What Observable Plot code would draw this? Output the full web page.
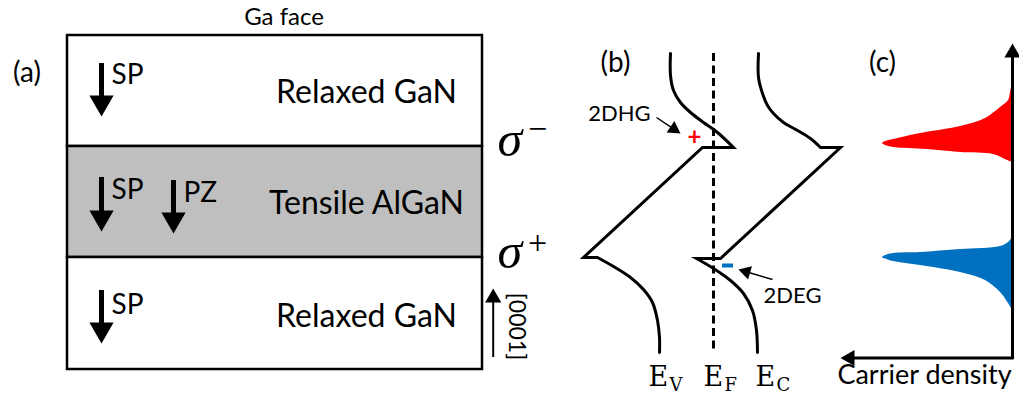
<!DOCTYPE html>
<html><head><meta charset="utf-8">
<script src="https://cdn.jsdelivr.net/npm/d3@7"></script>
<script src="https://cdn.jsdelivr.net/npm/@observablehq/plot@0.6"></script>
<style>
html,body{margin:0;padding:0;background:#fff;}
#chart svg{display:block;}
</style></head><body><div id="chart"></div>
<script>
// ---------------- data ----------------
const layerNames = ["Relaxed GaN", "Tensile AlGaN", "Relaxed GaN"];
const layerTop = [35, 146, 257];
const layerBottom = [146, 257, 369];

const polLabels = ["SP", "SP", "PZ", "SP"];
const polX = [101, 101, 173, 101];
const polTail = [63, 177, 180, 290];
const polTip = [116, 231, 233, 343];

const chargeSigns = ["−", "+"];
const chargeDepth = [155, 267];

// band edges: [energy(x), depth(y)]
const evUpper = [[670,53],[670,75],[673,90],[680,102],[690,112],[703,122],[717,132],[733,147]];
const evKink  = [[733,147],[702,147],[583,257],[597,257]];
const evLower = [[597,257],[613,266],[630,277],[643,289],[652,302],[657,320],[659,337],[659,352]];
const ecUpper = [[758,53],[758,77],[762,93],[767,105],[773,113],[783,122],[797,130],[810,138],[820,147]];
const ecKink  = [[820,147],[840,147],[720,258],[696,258]];
const ecLower = [[696,258],[713,268],[730,280],[743,293],[752,310],[756,330],[757,352]];
const bandLetters = ["V", "F", "C"];

// carrier density profiles
const holeDepth   = [83, 92, 100, 107, 118, 126, 133, 139, 141, 143, 145, 147, 149, 152, 154, 160, 162];
const holeDensity = [0, 2, 4, 12, 27, 52, 92, 119, 127, 130, 127, 119, 85, 52, 19, 5, 0];
const electronDepth   = [237, 242, 246, 249, 252, 253, 255, 257, 258.5, 261, 265, 272, 280, 292, 303, 310];
const electronDensity = [0, 4, 12, 52, 92, 119, 127, 130, 127, 119, 92, 52, 27, 12, 4, 0];

// ---------------- helpers ----------------
const SANS = "Lato, 'Open Sans', sans-serif";
const SERIF = "'DejaVu Serif', serif";
const TIMES = "'Liberation Serif', serif";

function heads(tips, h, fill = "black") {
  const k = 2 * h / 3;
  const r = Math.sqrt(((h / 3) ** 2) * 3 * Math.sqrt(3) / Math.PI);
  return Plot.dot(tips, {
    x: d => d.x - k * Math.sin(d.a * Math.PI / 180),
    y: d => d.y + k * Math.cos(d.a * Math.PI / 180),
    symbol: "triangle", r, fill, stroke: "none", rotate: d => d.a
  });
}
function band(upper, kink, lower) {
  return [...upper.slice(0, -1), ...kink.flatMap(p => [p, p]), ...lower.slice(1)];
}
const angle = (tx, ty, sx, sy) => Math.atan2(tx - sx, -(ty - sy)) * 180 / Math.PI;

const layers = layerNames.map((name, i) => ({name, top: layerTop[i], bottom: layerBottom[i], i}));
const layerLabelBase = [102, 213, 326];
const pols = polLabels.map((t, i) => ({t, x: polX[i], top: polTail[i], tip: polTip[i], i}));
const polLabelBase = [83, 198, 201, 313];
const holes = holeDepth.map((y, i) => ({y, d: holeDensity[i]}));
const electrons = electronDepth.map((y, i) => ({y, d: electronDensity[i]}));
const AX = 1012, AY = 357.5;

const hhg = {tail: [656, 117], tip: [680, 133]};
const heg = {tail: [772, 279], tip: [738, 269]};

const plot = Plot.plot({
  width: 1019, height: 396,
  margin: 0, marginTop: 0, marginRight: 0, marginBottom: 0, marginLeft: 0,
  x: {domain: [0, 1019], range: [0, 1019], axis: null},
  y: {domain: [0, 396], range: [0, 396], axis: null},
  color: {type: "identity"},
  style: {background: "white", overflow: "visible"},
  marks: [
    // ---- panel (a)
    Plot.rect(layers, {x1: 67, x2: 482, y1: "top", y2: "bottom",
      fill: d => d.i === 1 ? "#bfbfbf" : "white", stroke: "black", strokeWidth: 2.5}),
    Plot.text(layers, {x: 366, y: d => layerLabelBase[d.i], text: "name", fontFamily: SANS, fontSize: 32,
      textAnchor: "middle", lineAnchor: "bottom", fill: "black"}),
    Plot.ruleX(pols, {x: "x", y1: "top", y2: d => d.tip - 12, stroke: "black", strokeWidth: 5}),
    heads(pols.map(d => ({x: d.x, y: d.tip, a: 180})), 21),
    Plot.text(pols, {x: d => d.x + 10, y: d => polLabelBase[d.i], text: "t", fontFamily: SANS, fontSize: 28,
      textAnchor: "start", lineAnchor: "bottom", fill: "black"}),
    Plot.text(["Ga face"], {x: 283.5, y: 24, text: d => d, fontFamily: SANS, fontSize: 24, textAnchor: "middle", lineAnchor: "bottom"}),
    Plot.text(["(a)", "(b)", "(c)"], {x: [26.5, 615, 882], y: [81, 71, 71], text: d => d, fontFamily: SANS, fontSize: 28, textAnchor: "middle", lineAnchor: "bottom"}),
    // [0001] direction
    Plot.ruleX([492.7], {y1: 357, y2: 295, stroke: "black", strokeWidth: 2}),
    heads([{x: 492.7, y: 288, a: 0}], 14),
    Plot.text(["[0001]"], {x: 516, y: 326, text: d => d, rotate: 90, fontFamily: SANS, fontSize: 23, textAnchor: "middle", lineAnchor: "middle"}),
    // sheet charges
    Plot.text(chargeDepth, {x: 497, y: d => d, text: () => "σ", fontFamily: TIMES, fontStyle: "italic", fontSize: 50, textAnchor: "start", lineAnchor: "bottom"}),
    Plot.text(chargeSigns, {x: 537, y: [129, 243], text: d => d, fontFamily: TIMES, fontSize: 34, textAnchor: "middle", lineAnchor: "middle"}),
    // ---- panel (b)
    Plot.ruleX([713], {y1: 53, y2: 352, stroke: "black", strokeWidth: 3, strokeDasharray: "8,4.5"}),
    Plot.line(band(evUpper, evKink, evLower), {x: d => d[0], y: d => d[1], curve: "catmull-rom", stroke: "black", strokeWidth: 3, strokeLinejoin: "miter", strokeMiterlimit: 4}),
    Plot.line(band(ecUpper, ecKink, ecLower), {x: d => d[0], y: d => d[1], curve: "catmull-rom", stroke: "black", strokeWidth: 3, strokeLinejoin: "miter", strokeMiterlimit: 4}),
    Plot.text(bandLetters, {x: [648, 703, 755], y: 385, text: () => "E", fontFamily: SERIF, fontSize: 27, textAnchor: "start", lineAnchor: "bottom"}),
    Plot.text(bandLetters, {x: [669, 724, 776], y: 390, text: d => d, fontFamily: SERIF, fontSize: 18, textAnchor: "start", lineAnchor: "bottom"}),
    // 2DHG / 2DEG annotations
    Plot.link([hhg, heg], {x1: d => d.tail[0], y1: d => d.tail[1],
      x2: d => d.tip[0] - 8 * Math.sin(angle(d.tip[0], d.tip[1], d.tail[0], d.tail[1]) * Math.PI / 180),
      y2: d => d.tip[1] + 8 * Math.cos(angle(d.tip[0], d.tip[1], d.tail[0], d.tail[1]) * Math.PI / 180),
      stroke: "black", strokeWidth: 1.5}),
    heads([hhg, heg].map(d => ({x: d.tip[0], y: d.tip[1], a: angle(d.tip[0], d.tip[1], d.tail[0], d.tail[1])})), 12),
    Plot.text(["2DHG"], {x: 619, y: 120, text: d => d, fontFamily: SANS, fontSize: 22, textAnchor: "middle", lineAnchor: "bottom"}),
    Plot.text(["2DEG"], {x: 792, y: 302, text: d => d, fontFamily: SANS, fontSize: 22, textAnchor: "middle", lineAnchor: "bottom"}),
    Plot.text(["+"], {x: 694, y: 137, text: d => d, fontFamily: SANS, fontWeight: "bold", fontSize: 24, fill: "#ff0000", textAnchor: "middle", lineAnchor: "middle"}),
    Plot.ruleY([265], {x1: 722, x2: 733, stroke: "#0070c0", strokeWidth: 4}),
    // ---- panel (c)
    Plot.areaX(holes, {y: "y", x1: AX, x2: d => AX - d.d, curve: "catmull-rom", fill: "#ff0000"}),
    Plot.areaX(electrons, {y: "y", x1: AX, x2: d => AX - d.d, curve: "catmull-rom", fill: "#0070c0"}),
    Plot.ruleX([AX], {y1: AY + 1.5, y2: 50, stroke: "black", strokeWidth: 3}),
    heads([{x: AX, y: 43, a: 0}], 14),
    Plot.ruleY([AY], {x1: AX + 1.5, x2: 850, stroke: "black", strokeWidth: 3}),
    heads([{x: 840, y: AY, a: -90}], 14),
    Plot.text(["Carrier density"], {x: 924, y: 383, text: d => d, fontFamily: SANS, fontSize: 27, textAnchor: "middle", lineAnchor: "bottom"})
  ]
});
document.getElementById("chart").appendChild(plot);
</script>
</body></html>
